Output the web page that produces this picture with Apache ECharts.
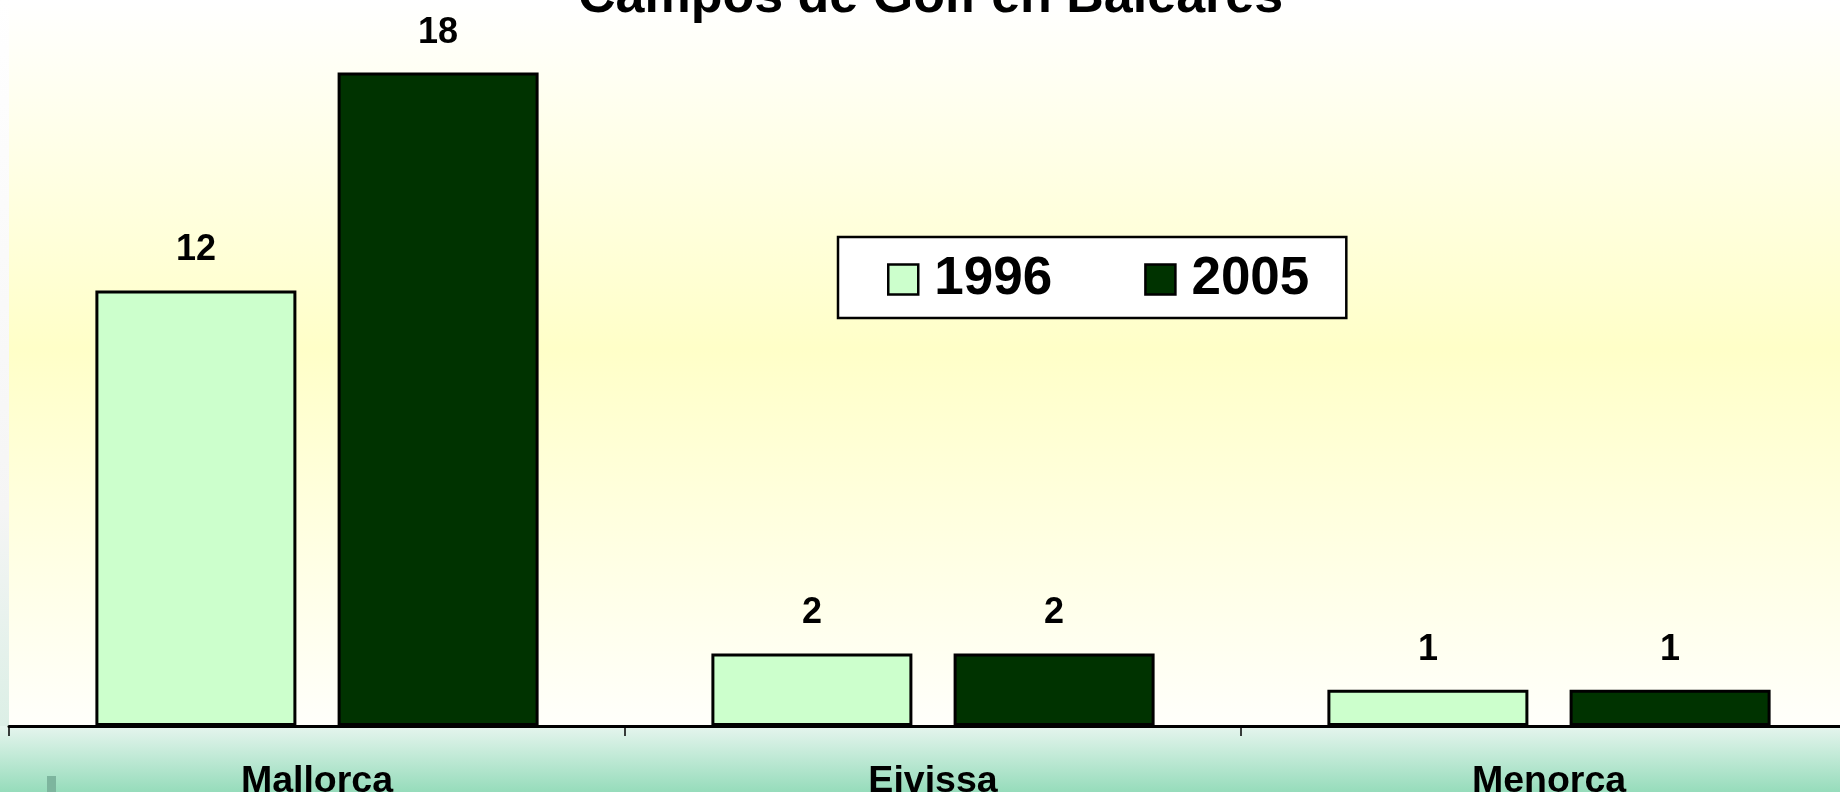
<!DOCTYPE html>
<html>
<head>
<meta charset="utf-8">
<title>Campos de Golf en Baleares</title>
<script src="https://cdn.jsdelivr.net/npm/echarts@6/dist/echarts.min.js"></script>
<style>
  html, body { margin: 0; padding: 0; }
  #chart {
    width: 1840px;
    height: 792px;
    background:
      linear-gradient(to bottom, #E6F5EE 0, #96DCBB 66px) 0 726px / 100% 66px no-repeat,
      linear-gradient(to bottom, #FFFFFF 0%, #FFFFC8 48%, #FFFFFB 100%) 9px 0 / 1831px 726px no-repeat,
      linear-gradient(to bottom, #FFFFFF 0%, #F5F5F5 70%, #DCEFE6 100%) 0 0 / 9px 726px no-repeat;
  }
</style>
</head>
<body>
<div id="chart"></div>
<script>
// datos
const categories = ['Mallorca', 'Eivissa', 'Menorca'];
const seriesNames = ['1996', '2005'];
const values1996 = [12, 2, 1];
const values2005 = [18, 2, 1];

const FONT = '"Liberation Sans", Arial, sans-serif';

const myChart = echarts.init(document.getElementById('chart'));

const labelStyle = {
    show: true,
    position: 'top',
    distance: 22,
    color: '#000',
    fontSize: 36,
    fontWeight: 'bold',
    fontFamily: FONT
};

const option = {
    animation: false,
    title: {
        text: 'Campos de Golf en Baleares',
        left: 578,
        top: -28,
        padding: 0,
        textStyle: {
            color: '#000',
            fontSize: 52,
            fontWeight: 'bold',
            fontFamily: FONT
        }
    },
    legend: {
        data: seriesNames,
        left: 838,
        top: 237,
        orient: 'horizontal',
        icon: 'rect',
        itemWidth: 30,
        itemHeight: 30,
        itemGap: 92,
        padding: [16, 37, 12, 49],
        backgroundColor: '#FFFFFF',
        borderColor: '#000',
        borderWidth: 2.5,
        borderRadius: 0,
        itemStyle: {
            borderColor: '#000',
            borderWidth: 2.5
        },
        textStyle: {
            color: '#000',
            fontSize: 53,
            fontWeight: 'bold',
            fontFamily: FONT,
            padding: [0, 0, 0, 11]
        }
    },
    grid: {
        left: 9,
        width: 1848,
        top: 0,
        bottom: 66,
        outerBoundsMode: 'none',
        containLabel: false
    },
    xAxis: {
        type: 'category',
        data: categories,
        axisLine: {
            show: true,
            lineStyle: { color: '#000', width: 3 }
        },
        axisTick: {
            show: true,
            length: 10,
            lineStyle: { color: '#000', width: 1.5 }
        },
        axisLabel: {
            color: '#000',
            fontSize: 37.5,
            fontWeight: 'bold',
            fontFamily: FONT,
            margin: 37
        }
    },
    yAxis: {
        type: 'value',
        min: 0,
        max: 20,
        show: false,
        splitLine: { show: false }
    },
    series: [
        {
            name: seriesNames[0],
            type: 'bar',
            data: values1996,
            barWidth: 201,
            barGap: '20.5%',
            itemStyle: {
                color: '#CCFFCC',
                borderColor: '#000',
                borderWidth: 3
            },
            label: labelStyle
        },
        {
            name: seriesNames[1],
            type: 'bar',
            data: values2005,
            barWidth: 201,
            barGap: '20.5%',
            itemStyle: {
                color: '#003300',
                borderColor: '#000',
                borderWidth: 3
            },
            label: labelStyle
        }
    ],
    graphic: [
        {
            type: 'rect',
            left: 47,
            top: 776,
            shape: { width: 9, height: 16 },
            style: { fill: '#7DB59E' },
            silent: true
        }
    ]
};

myChart.setOption(option);
</script>
</body>
</html>
